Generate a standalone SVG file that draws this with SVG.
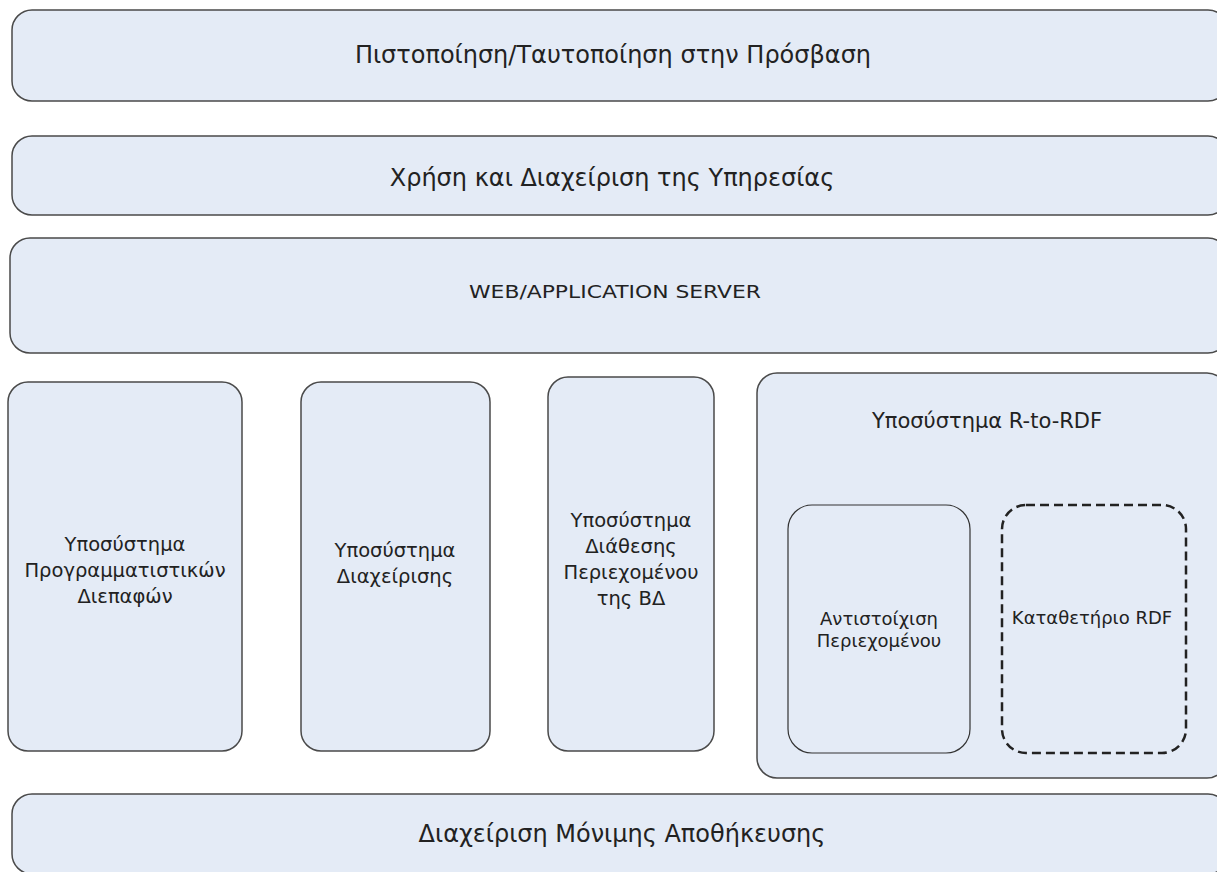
<svg xmlns="http://www.w3.org/2000/svg" width="1217" height="872" viewBox="0 0 1217 872">
<style>
.b{fill:#e4ebf6;stroke:#4a4a4a;stroke-width:1.5}
.i{fill:#e4ebf6;stroke:#333;stroke-width:1.2}
.d{fill:#e4ebf6;stroke:#222;stroke-width:2.5;stroke-dasharray:9,5}
text{font-family:"DejaVu Sans","Liberation Sans",sans-serif;fill:#222;text-anchor:middle}
.l{font-size:24px}
.m{font-size:17px}
.c{font-size:19.5px}
.s{font-size:18px}
</style>
<rect width="1217" height="872" fill="#fff"/>
<g id="auth"><rect class="b" x="12" y="10" width="1216" height="91" rx="20"/><text class="l" x="613" y="63">Πιστοποίηση/Ταυτοποίηση στην Πρόσβαση</text></g>
<g id="usage"><rect class="b" x="12" y="136" width="1216" height="79" rx="20"/><text class="l" x="612" y="186">Χρήση και Διαχείριση της Υπηρεσίας</text></g>
<g id="server"><rect class="b" x="10" y="238" width="1218" height="115" rx="20"/><text class="m" x="615" y="298" textLength="292" lengthAdjust="spacingAndGlyphs">WEB/APPLICATION SERVER</text></g>
<g id="api"><rect class="b" x="8" y="382" width="234" height="369" rx="20"/><text class="c" x="125" y="551">Υποσύστημα</text><text class="c" x="125" y="577">Προγραμματιστικών</text><text class="c" x="125" y="603">Διεπαφών</text></g>
<g id="admin"><rect class="b" x="301" y="382" width="189" height="369" rx="20"/><text class="c" x="395" y="557">Υποσύστημα</text><text class="c" x="395" y="583">Διαχείρισης</text></g>
<g id="content"><rect class="b" x="548" y="377" width="166" height="374" rx="20"/><text class="c" x="631" y="527">Υποσύστημα</text><text class="c" x="631" y="553">Διάθεσης</text><text class="c" x="631" y="579">Περιεχομένου</text><text class="c" x="631" y="605">της ΒΔ</text></g>
<g id="rtordf"><rect class="b" x="757" y="373" width="470" height="405" rx="20"/><text class="c" x="987" y="428" style="font-size:21px">Υποσύστημα R-to-RDF</text></g>
<g id="mapping"><rect class="i" x="788" y="505" width="182" height="248" rx="24"/><text class="s" x="879" y="625">Αντιστοίχιση</text><text class="s" x="879" y="647">Περιεχομένου</text></g>
<g id="repo"><rect class="d" x="1002" y="505" width="184" height="248" rx="24"/><text class="s" x="1092" y="624">Καταθετήριο RDF</text></g>
<g id="storage"><rect class="b" x="12" y="794" width="1216" height="80" rx="20"/><text class="l" x="622" y="842">Διαχείριση Μόνιμης Αποθήκευσης</text></g>
<g id="connectors"/>
</svg>
